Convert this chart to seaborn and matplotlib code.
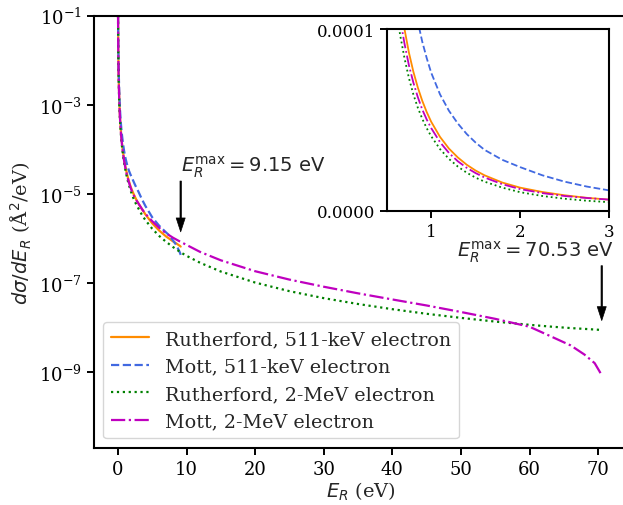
import numpy as np
import pandas as pd
import matplotlib
matplotlib.use("Agg")
import matplotlib.pyplot as plt
import seaborn as sns

# Recoil energies (eV) and differential cross sections (Å^2/eV)
E_511 = [0.02, 0.03, 0.05, 0.1, 0.2, 0.3, 0.4, 0.5, 0.6, 0.65, 0.7, 0.75,
         0.8, 0.85, 0.9, 0.95, 1.0, 1.1, 1.2, 1.3, 1.4, 1.5, 1.6, 1.8, 2.0,
         2.25, 2.5, 2.75, 3.0, 3.5, 4.0, 5.0, 6.0, 7.0, 7.5, 8.0, 8.5, 9.0,
         9.15]
ruth_511 = [1.2e-1, 5.4e-2, 1.96e-2, 4.9e-3, 1.23e-3, 5.4e-4, 3.06e-4, 1.96e-4,
            1.36e-4, 1.16e-4, 1.0e-4, 8.7e-5, 7.65e-5, 6.78e-5, 6.05e-5,
            5.43e-5, 4.9e-5, 4.06e-5, 3.42e-5, 2.93e-5, 2.53e-5, 2.21e-5,
            1.95e-5, 1.55e-5, 1.27e-5, 1.03e-5, 8.5e-6, 7.1e-6, 6.1e-6, 4.6e-6,
            3.5e-6, 2.2e-6, 1.52e-6, 1.12e-6, 9.9e-7, 8.7e-7, 7.8e-7, 6.9e-7,
            6.6e-7]
mott_511 = [1.8e-1, 8.0e-2, 2.9e-2, 7.2e-3, 1.8e-3, 8.0e-4, 4.5e-4, 2.9e-4,
            2.05e-4, 1.77e-4, 1.53e-4, 1.34e-4, 1.18e-4, 1.04e-4, 9.3e-5,
            8.4e-5, 7.6e-5, 6.4e-5, 5.5e-5, 4.8e-5, 4.22e-5, 3.75e-5, 3.35e-5,
            2.8e-5, 2.4e-5, 1.95e-5, 1.6e-5, 1.33e-5, 1.12e-5, 7.6e-6, 5.4e-6,
            3.0e-6, 1.95e-6, 1.38e-6, 1.17e-6, 9.2e-7, 7.2e-7, 5.0e-7, 4.3e-7]

E_2M = [0.02, 0.03, 0.05, 0.1, 0.2, 0.3, 0.4, 0.5, 0.6, 0.65, 0.7, 0.75, 0.8,
        0.85, 0.9, 0.95, 1.0, 1.1, 1.2, 1.3, 1.4, 1.5, 1.6, 1.8, 2.0, 2.25,
        2.5, 2.75, 3.0, 3.5, 4.0, 5.0, 6.0, 7.0, 8.0, 9.15, 10.0, 12.0, 15.0,
        20.0, 25.0, 30.0, 35.0, 40.0, 45.0, 50.0, 55.0, 60.0, 63.0, 66.0,
        68.0, 69.5, 70.2, 70.53]
ruth_2M = [1.0e-1, 4.55e-2, 1.64e-2, 4.1e-3, 1.02e-3, 4.55e-4, 2.56e-4, 1.64e-4,
           1.14e-4, 9.7e-5, 8.4e-5, 7.3e-5, 6.4e-5, 5.67e-5, 5.06e-5, 4.54e-5,
           4.1e-5, 3.39e-5, 2.85e-5, 2.43e-5, 2.09e-5, 1.82e-5, 1.6e-5,
           1.27e-5, 1.02e-5, 8.1e-6, 6.6e-6, 5.5e-6, 4.7e-6, 3.4e-6, 2.6e-6,
           1.66e-6, 1.15e-6, 8.5e-7, 6.5e-7, 4.9e-7, 4.1e-7, 2.85e-7, 1.82e-7,
           1.03e-7, 6.6e-8, 4.6e-8, 3.4e-8, 2.6e-8, 2.05e-8, 1.66e-8, 1.37e-8,
           1.16e-8, 1.06e-8, 9.8e-9, 9.4e-9, 9.1e-9, 8.95e-9, 8.9e-9]
mott_2M = [1.1e-1, 4.9e-2, 1.78e-2, 4.5e-3, 1.12e-3, 5.0e-4, 2.8e-4, 1.8e-4,
           1.25e-4, 1.06e-4, 9.2e-5, 8.0e-5, 7.05e-5, 6.25e-5, 5.57e-5, 5.02e-5,
           4.55e-5, 3.77e-5, 3.18e-5, 2.72e-5, 2.36e-5, 2.07e-5, 1.83e-5,
           1.46e-5, 1.19e-5, 9.7e-6, 8.1e-6, 7.0e-6, 6.1e-6, 4.6e-6, 3.6e-6,
           2.45e-6, 1.75e-6, 1.32e-6, 1.05e-6, 8.4e-7, 7.2e-7, 5.0e-7, 3.25e-7,
           1.85e-7, 1.2e-7, 8.3e-8, 5.9e-8, 4.3e-8, 3.15e-8, 2.25e-8, 1.58e-8,
           1.05e-8, 6.5e-9, 4.0e-9, 2.5e-9, 1.6e-9, 1.05e-9, 8.5e-10]

labels = ["Rutherford, 511-keV electron", "Mott, 511-keV electron",
          "Rutherford, 2-MeV electron", "Mott, 2-MeV electron"]
colors = ["darkorange", "royalblue", "green", "m"]
styles = ["-", "--", ":", "-."]

Emax_511 = 9.15
Emax_2M = 70.53

sns.set_style("ticks")
plt.rcParams["font.family"] = ["DejaVu Serif"]
plt.rcParams["mathtext.fontset"] = "dejavusans"
plt.rcParams["axes.linewidth"] = 1.5
plt.rcParams["xtick.major.width"] = 1.4
plt.rcParams["ytick.major.width"] = 1.4
plt.rcParams["xtick.major.size"] = 5
plt.rcParams["ytick.major.size"] = 5
plt.rcParams["axes.edgecolor"] = "black"
plt.rcParams["xtick.color"] = "black"
plt.rcParams["ytick.color"] = "black"

series = [(E_511, ruth_511), (E_511, mott_511), (E_2M, ruth_2M), (E_2M, mott_2M)]

fig = plt.figure(figsize=(6.23, 5.06), dpi=100)
ax = fig.add_axes([0.1504, 0.1126, 0.8570, 0.8544])

for (x, y), lab, c, ls in zip(series, labels, colors, styles):
    df = pd.DataFrame({"E": x, "s": y})
    sns.lineplot(data=df, x="E", y="s", ax=ax, color=c, linestyle=ls,
                 linewidth=1.6, label=lab, sort=False, estimator=None)

ax.set_yscale("log")
ax.set_xlim(-3.53, 74.3)
ax.set_ylim(10 ** -10.70, 1e-1)
ax.set_yticks([1e-9, 1e-7, 1e-5, 1e-3, 1e-1])
ax.yaxis.set_minor_locator(matplotlib.ticker.NullLocator())
ax.set_xticks(np.arange(0, 80, 10))
ax.tick_params(labelsize=13)
ax.set_xlabel(r"$E_R$ (eV)", fontsize=14, labelpad=1)
ax.set_ylabel(r"$d\sigma/dE_R$ (Å$^2$/eV)", fontsize=14)
ax.legend(loc="lower left", fontsize=13.8)

arrow = dict(facecolor="black", edgecolor="black", width=1.0, headwidth=6.5,
             headlength=10, shrink=0, lw=0.5)
ax.annotate("", xy=(Emax_511, 10 ** -5.85), xytext=(Emax_511, 10 ** -4.71),
            arrowprops=arrow)
ax.text(Emax_511, 10 ** -4.66, r"$E_R^{\max} = 9.15$ eV", ha="left",
        va="bottom", fontsize=14, family="DejaVu Sans")
ax.annotate("", xy=(Emax_2M, 10 ** -7.84), xytext=(Emax_2M, 10 ** -6.61),
            arrowprops=arrow)
ax.text(72.3, 10 ** -6.58, r"$E_R^{\max} = 70.53$ eV", ha="right",
        va="bottom", fontsize=14, family="DejaVu Sans")

# Zoomed-in linear view of the low-energy region
ins = fig.add_axes([0.6207, 0.5816, 0.3568, 0.3591])
for (x, y), c, ls in zip(series, colors, styles):
    df = pd.DataFrame({"E": x, "s": y})
    sns.lineplot(data=df, x="E", y="s", ax=ins, color=c, linestyle=ls,
                 linewidth=1.3, sort=False, estimator=None)
ins.set_xlim(0.5, 3)
ins.set_ylim(0, 1e-4)
ins.set_xticks([1, 2, 3])
ins.set_yticks([0, 1e-4])
ins.yaxis.set_major_formatter(matplotlib.ticker.FormatStrFormatter("%.4f"))
ins.tick_params(labelsize=12)
ins.set_xlabel("")
ins.set_ylabel("")

fig.savefig("out.png", dpi=100)
